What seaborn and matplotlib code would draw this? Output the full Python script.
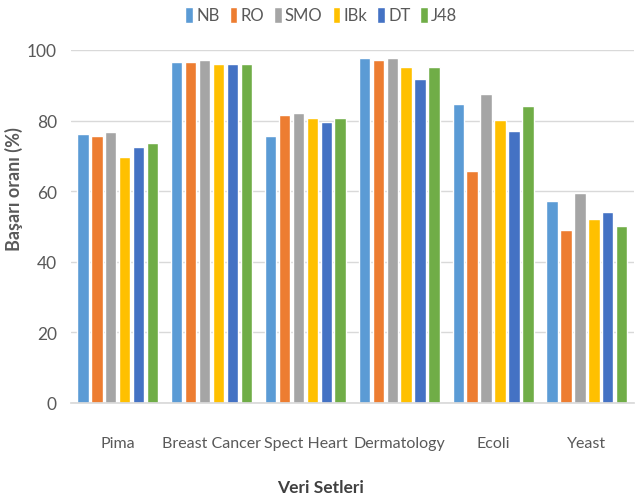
import numpy as np
import pandas as pd
import matplotlib
matplotlib.use("Agg")
import matplotlib.pyplot as plt
import seaborn as sns

# veri setleri ve yöntemler
datasets = ['Pima', 'Breast Cancer', 'Spect Heart', 'Dermatology', 'Ecoli', 'Yeast']
methods = ['NB', 'RO', 'SMO', 'IBk', 'DT', 'J48']

nb = [76.3, 96.5, 75.7, 97.7, 84.8, 57.3]
ro = [75.7, 96.5, 81.5, 97.2, 65.8, 48.9]
smo = [76.9, 97.2, 82.1, 97.7, 87.4, 59.5]
ibk = [69.8, 95.9, 80.8, 95.2, 80.3, 52.1]
dt = [72.5, 95.9, 79.6, 91.9, 77.1, 54.1]
j48 = [73.7, 95.9, 80.8, 95.2, 84.1, 50.2]

colors = ['#5B9BD5', '#ED7D31', '#A5A5A5', '#FFC000', '#4472C4', '#70AD47']

rows = []
for m, vals in zip(methods, [nb, ro, smo, ibk, dt, j48]):
    for d, v in zip(datasets, vals):
        rows.append({'dataset': d, 'method': m, 'value': v})
df = pd.DataFrame(rows)

sns.set_theme(style='white')
plt.rcParams['font.family'] = ['Lato', 'DejaVu Sans']

fig = plt.figure(figsize=(6.43, 5.02), dpi=100)
ax = fig.add_axes([70.8 / 643, 1 - 404 / 502, 563 / 643, 353 / 502])

sns.barplot(data=df, x='dataset', y='value', hue='method', palette=colors,
            width=0.89, gap=0.18, ax=ax, saturation=1, legend=True)

ax.set_ylim(0, 100)
ax.set_xlim(-0.5, 5.5)
ax.set_yticks([0, 20, 40, 60, 80, 100])
ax.yaxis.grid(True, color='#D9D9D9', linewidth=1)
ax.set_axisbelow(True)
for s in ['top', 'right', 'left']:
    ax.spines[s].set_visible(False)
ax.spines['bottom'].set_color('#D9D9D9')
ax.tick_params(axis='both', length=0, labelsize=11.5, colors='#595959')
ax.tick_params(axis='y', labelsize=12.5)
ax.tick_params(axis='x', pad=24)
ax.tick_params(axis='y', pad=10)

ax.set_ylabel('Başarı oranı (%)', fontsize=13, fontweight='bold', color='#595959')
ax.yaxis.set_label_coords(-0.085, 0.61)
ax.set_xlabel('Veri Setleri', fontsize=12.5, fontweight='bold', color='#404040')
ax.xaxis.set_label_coords((321 - 70.8) / 563, -0.215)

handles, labels = ax.get_legend_handles_labels()
ax.get_legend().remove()
fig.legend(handles, labels, loc='center', bbox_to_anchor=(0.5, 1 - 16 / 502), ncol=6,
           frameon=False, fontsize=12, handlelength=0.45, handleheight=1.1,
           handletextpad=0.2, columnspacing=0.6, labelcolor='#595959')

fig.savefig('out.png', dpi=100)
